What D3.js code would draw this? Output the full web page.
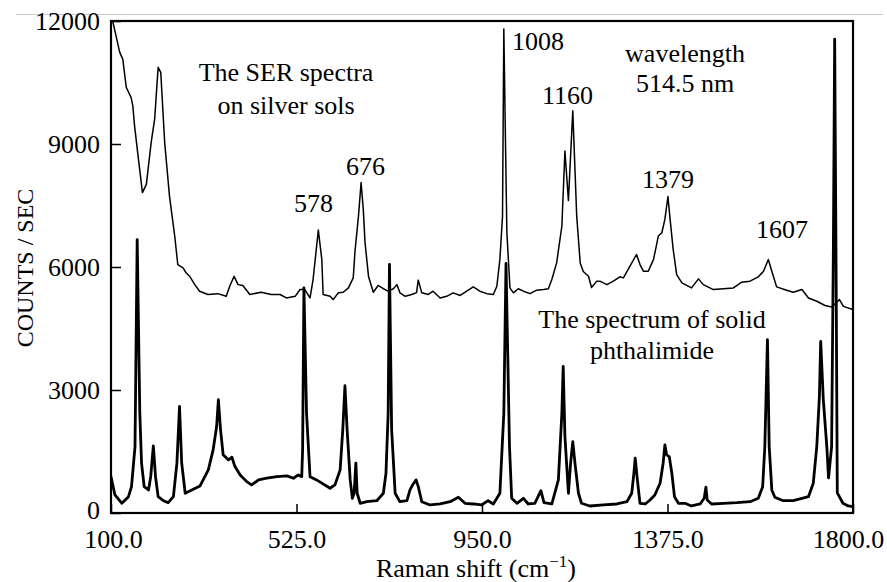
<!DOCTYPE html>
<html>
<head>
<meta charset="utf-8">
<script src="https://cdn.jsdelivr.net/npm/d3@7"></script>
<style>
    body { margin: 0; background: #fff; }
    text { font-family: "Liberation Serif", "Times New Roman", serif; fill: #000; }
</style>
</head>
<body>
<script>
// Raman shift (cm-1) and counts of the SER spectrum on silver sols
var serShift = [100, 105, 120, 127, 135, 146, 150, 154, 162, 172, 181, 192, 200, 208, 214, 223, 234, 246, 253, 265,
    272, 280, 292, 303, 322, 345, 364, 372, 382, 391, 402, 418, 444, 467, 487, 502, 522, 533, 544, 556,
    563, 575, 583, 586, 602, 609, 621, 632, 644, 655, 659, 667, 673, 678, 682, 690, 701, 712, 724, 735,
    747, 755, 762, 774, 789, 800, 804, 812, 827, 838, 854, 869, 884, 900, 915, 930, 945, 961, 976, 984,
    991, 997, 1000, 1003, 1007, 1014, 1022, 1033, 1045, 1060, 1075, 1091, 1102, 1110, 1121, 1133, 1140, 1148, 1158, 1167,
    1175, 1182, 1194, 1201, 1213, 1220, 1236, 1251, 1266, 1274, 1289, 1304, 1312, 1320, 1331, 1343, 1354, 1362, 1369, 1376,
    1381, 1388, 1396, 1408, 1419, 1430, 1446, 1457, 1480, 1503, 1526, 1545, 1564, 1583, 1595, 1606, 1614, 1625, 1648, 1663,
    1683, 1698, 1717, 1736, 1751, 1769, 1778, 1800];
var serCounts = [12000, 11950, 11235, 11070, 10380, 10135, 9930, 9440, 8710, 7815, 8015, 9035, 9605, 10870, 10745, 9035, 7730, 6755, 6060, 5980,
    5860, 5775, 5570, 5410, 5330, 5350, 5285, 5530, 5775, 5570, 5550, 5330, 5385, 5330, 5330, 5245, 5285, 5450, 5450, 5245,
    5695, 6900, 6185, 5330, 5285, 5205, 5370, 5385, 5490, 5735, 6380, 7240, 8060, 7405, 6600, 5770, 5385, 5550, 5470, 5410,
    5470, 5570, 5370, 5285, 5330, 5375, 5680, 5370, 5330, 5410, 5245, 5285, 5370, 5305, 5410, 5515, 5410, 5350, 5330, 5530,
    6185, 7240, 11805, 9605, 6845, 5490, 5370, 5470, 5410, 5350, 5435, 5450, 5470, 5695, 6100, 7000, 8830, 7620, 9810, 7240,
    6100, 5890, 5775, 5500, 5655, 5655, 5570, 5655, 5760, 5735, 6020, 6305, 6060, 5895, 5895, 6185, 6755, 6835, 7160, 7720,
    7160, 6430, 5815, 5615, 5550, 5490, 5710, 5570, 5450, 5470, 5490, 5630, 5655, 5760, 5895, 6185, 5895, 5515, 5435, 5385,
    5450, 5245, 5165, 5060, 5025, 5205, 5040, 4960];

// Raman shift (cm-1) and counts of the solid phthalimide spectrum
var solidShift = [100, 109, 125, 140, 147, 155, 160, 166, 170, 176, 186, 191, 197, 202, 208, 220, 231, 243, 251, 257,
    262, 270, 285, 304, 323, 334, 342, 346, 351, 357, 369, 377, 384, 396, 411, 422, 438, 457, 480, 503,
    518, 529, 537, 539, 542, 548, 556, 571, 602, 613, 625, 631, 636, 641, 648, 653, 657, 661, 664, 671,
    686, 709, 724, 730, 735, 738, 743, 751, 762, 778, 785, 791, 799, 804, 812, 831, 854, 877, 896, 911,
    930, 949, 964, 976, 991, 1000, 1005, 1013, 1018, 1030, 1045, 1056, 1071, 1085, 1092, 1110, 1125, 1133, 1136, 1140,
    1148, 1153, 1158, 1163, 1171, 1178, 1197, 1228, 1259, 1282, 1293, 1298, 1301, 1306, 1312, 1324, 1335, 1346, 1358, 1365,
    1369, 1373, 1379, 1385, 1391, 1400, 1415, 1430, 1450, 1459, 1463, 1466, 1476, 1503, 1534, 1564, 1583, 1593, 1598, 1604,
    1608, 1614, 1621, 1640, 1663, 1683, 1698, 1709, 1717, 1723, 1726, 1732, 1740, 1744, 1751, 1755, 1758, 1761, 1764, 1777,
    1789, 1800];
var solidCounts = [887, 440, 237, 398, 643, 1620, 6670, 2437, 1215, 643, 562, 887, 1637, 887, 398, 300, 252, 398, 1215, 2598,
    1215, 481, 562, 660, 1051, 1540, 2109, 2762, 2028, 1418, 1296, 1361, 1132, 929, 765, 684, 807, 848, 887, 904,
    848, 929, 887, 1540, 5492, 2437, 887, 807, 604, 684, 1051, 2028, 3104, 2028, 807, 359, 481, 1215, 481, 237,
    276, 300, 481, 970, 2437, 6061, 2028, 481, 276, 300, 562, 684, 807, 643, 276, 196, 220, 276, 384, 237,
    220, 196, 300, 220, 481, 2437, 6085, 1620, 359, 237, 359, 220, 237, 545, 252, 220, 807, 2437, 3576, 1865,
    481, 1215, 1743, 1215, 481, 237, 171, 196, 220, 276, 481, 970, 1337, 807, 237, 220, 318, 440, 726, 1215,
    1662, 1418, 1376, 970, 398, 237, 237, 171, 220, 359, 628, 318, 220, 237, 252, 276, 359, 643, 1620, 4228,
    1620, 562, 384, 300, 300, 359, 398, 726, 1620, 2842, 4187, 2762, 1620, 855, 1620, 6428, 11560, 6428, 489, 237,
    171, 154];

// axis ticks
var xTicks = [100, 525, 950, 1375, 1800];
var yTicks = [0, 3000, 6000, 9000, 12000];

// peak labels of the SER spectrum and the text notes
var peakLabels = ["578", "676", "1008", "1160", "1379", "1607"];
var notes = [["The SER spectra", "on silver sols"], ["wavelength", "514.5 nm"], ["The spectrum of solid", "phthalimide"]];

window.onload = function() {
    var width = 887, height = 582;

    var svg = d3.select("body")
        .append("svg")
        .attr("width", width)
        .attr("height", height);

    // thin grey rule at the top of the figure
    svg.append("line")
        .attr("x1", 16).attr("x2", 883)
        .attr("y1", 14.5).attr("y2", 14.5)
        .style("stroke", "#c8c8c8")
        .style("stroke-width", 1);

    var x = d3.scaleLinear().domain([100, 1800]).range([111, 853]);
    var y = d3.scaleLinear().domain([0, 12000]).range([513, 21]);

    svg.append("clipPath").attr("id", "plot")
        .append("rect")
        .attr("x", x(100)).attr("y", y(12000))
        .attr("width", x(1800) - x(100)).attr("height", y(0) - y(12000));

    var line = d3.line()
        .x(function(d) { return x(d[0]); })
        .y(function(d) { return y(d[1]); });

    // solid phthalimide spectrum, heavy line
    svg.append("path")
        .datum(d3.zip(solidShift, solidCounts))
        .attr("clip-path", "url(#plot)")
        .attr("d", line)
        .style("fill", "none")
        .style("stroke", "#000")
        .style("stroke-width", 2.8)
        .style("stroke-linejoin", "round");

    // SER spectrum, thin line
    svg.append("path")
        .datum(d3.zip(serShift, serCounts))
        .attr("clip-path", "url(#plot)")
        .attr("d", line)
        .style("fill", "none")
        .style("stroke", "#000")
        .style("stroke-width", 1.5)
        .style("stroke-linejoin", "round");

    // axes, ticks pointing inside the frame
    var yAxis = svg.append("g")
        .attr("transform", "translate(" + x(100) + ",0)")
        .call(d3.axisLeft(y).tickValues(yTicks).tickSize(-10).tickPadding(11).tickFormat(d3.format("d")));

    var xAxis = svg.append("g")
        .attr("transform", "translate(0," + y(0) + ")")
        .call(d3.axisBottom(x).tickValues(xTicks).tickSize(-9).tickPadding(16.5).tickFormat(d3.format(".1f")));

    [xAxis, yAxis].forEach(function(g) {
        g.select(".domain").remove();
        g.selectAll(".tick line").style("stroke", "#000").style("stroke-width", 1.5);
        g.selectAll(".tick text")
            .style("font-family", "'Liberation Serif', 'Times New Roman', serif")
            .style("font-size", "26px")
            .style("fill", "#000");
    });

    // end labels sit a little inside, as in the original
    xAxis.selectAll(".tick text")
        .attr("dx", function(d) { return d === 100 ? 2 : (d === 1800 ? -5 : 0); });
    yAxis.selectAll(".tick text")
        .attr("dy", function(d) { return d === 0 ? "0.21em" : "0.32em"; });

    // plot frame
    svg.append("rect")
        .attr("x", x(100)).attr("y", y(12000))
        .attr("width", x(1800) - x(100)).attr("height", y(0) - y(12000))
        .style("fill", "none")
        .style("stroke", "#000")
        .style("stroke-width", 2.2);

    // axis titles
    svg.append("text")
        .attr("transform", "translate(33,268) rotate(-90)")
        .attr("text-anchor", "middle")
        .style("font-size", "24px")
        .text("COUNTS / SEC");

    var xTitle = svg.append("text")
        .attr("x", 476).attr("y", 577)
        .attr("text-anchor", "middle")
        .style("font-size", "26px")
        .text("Raman shift (cm");
    xTitle.append("tspan").attr("dy", -10).style("font-size", "17px").text("\u22121");
    xTitle.append("tspan").attr("dy", 10).text(")");

    // peak labels
    var peakPos = [[294, 212], [346, 175], [512, 50], [542, 104], [642, 188], [756, 238]];
    svg.selectAll(".peak")
        .data(peakLabels)
        .enter()
        .append("text")
        .attr("class", "peak")
        .attr("x", function(d, i) { return peakPos[i][0]; })
        .attr("y", function(d, i) { return peakPos[i][1]; })
        .style("font-size", "26px")
        .text(function(d) { return d; });

    // two-line notes
    var notePos = [[286, 81], [685, 62], [652, 328]];
    var noteGap = [33, 30, 31];
    notes.forEach(function(lines, i) {
        var t = svg.append("text")
            .attr("text-anchor", "middle")
            .attr("y", notePos[i][1])
            .style("font-size", "26px");
        lines.forEach(function(s, j) {
            t.append("tspan")
                .attr("x", notePos[i][0])
                .attr("dy", j === 0 ? 0 : noteGap[i])
                .text(s);
        });
    });
};
</script>
</body>
</html>
